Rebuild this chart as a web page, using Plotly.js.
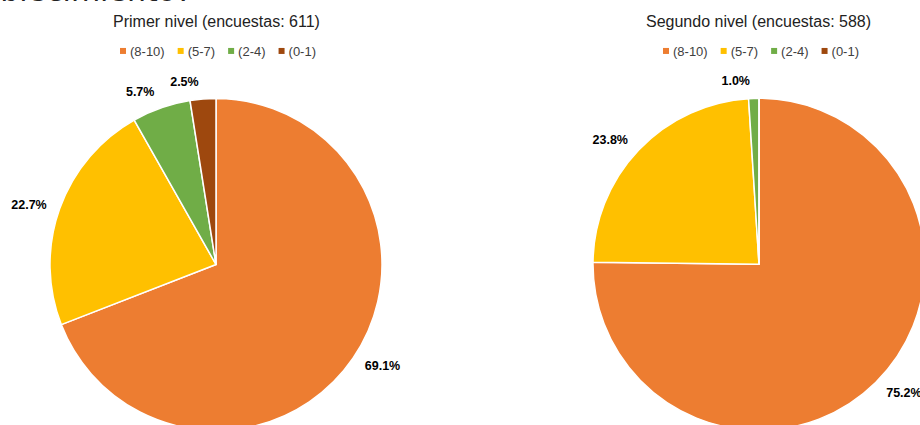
<!DOCTYPE html>
<html>
<head>
<meta charset="utf-8">
<script src="https://cdn.plot.ly/plotly-3.0.1.min.js"></script>
<style>
  html, body { margin: 0; padding: 0; background: #fff; overflow: hidden; }
  #wrap { width: 920px; height: 425px; overflow: hidden; position: relative; }
  #chart { width: 950px; height: 460px; }
</style>
</head>
<body>
<div id="wrap"><div id="chart"></div></div>
<script>
// ---- data ----
const categories = ['(8-10)', '(5-7)', '(2-4)', '(0-1)'];
const primerValues = [69.1, 22.7, 5.7, 2.5];
const segundoValues = [75.2, 23.8, 1.0, 0.0];
const primerTitle = 'Primer nivel (encuestas: 611)';
const segundoTitle = 'Segundo nivel (encuestas: 588)';
const headingText = 'establecimiento?';
const sliceColors = ['#ED7D31', '#FFC000', '#70AD47', '#9E480E'];

// ---- geometry (layout, not data) ----
const W = 950, H = 460;
const R = 166, RL = 176;
function dom(cx, cy, r) {
  return { x: [(cx - r) / W, (cx + r) / W], y: [(H - (cy + r)) / H, (H - (cy - r)) / H] };
}
// labels split over two label layers so neighbouring small slices are not pushed apart
const labelText = (vals, parity) => vals.map((v, i) => (v > 0 && i % 2 === parity) ? v.toFixed(1) + '%' : '');

function pie(vals, d) {
  return {
    type: 'pie', values: vals, labels: categories, sort: false, direction: 'clockwise', rotation: 0,
    marker: { colors: sliceColors, line: { color: '#ffffff', width: 1.5 } },
    textinfo: 'none', domain: d, showlegend: false, hoverinfo: 'label+percent'
  };
}
function labelLayer(vals, d, parity) {
  return {
    type: 'pie', values: vals, labels: categories, sort: false, direction: 'clockwise', rotation: 0,
    marker: { colors: categories.map(() => 'rgba(0,0,0,0)'), line: { width: 0 } },
    text: labelText(vals, parity), textinfo: 'text', textposition: 'outside',
    outsidetextfont: { family: 'Liberation Sans, Arial, sans-serif', size: 12.5, color: '#000', weight: 'bold' },
    domain: d, showlegend: false, hoverinfo: 'skip'
  };
}
// legend keys (one per category, per chart)
function legendKeys(legendId) {
  return categories.map((c, i) => ({
    type: 'scatter', mode: 'markers', x: [null], y: [null], name: c, legend: legendId,
    marker: { symbol: 'square', size: 6, color: sliceColors[i], line: { width: 0 } },
    hoverinfo: 'skip', showlegend: true
  }));
}

const leftC = [216, 264.5], rightC = [759, 264.3];
const data = [
  labelLayer(primerValues, dom(leftC[0], leftC[1], RL), 0),
  labelLayer(primerValues, dom(leftC[0], leftC[1], RL), 1),
  labelLayer(segundoValues, dom(rightC[0], rightC[1], RL), 0),
  labelLayer(segundoValues, dom(rightC[0], rightC[1], RL), 1),
  pie(primerValues, dom(leftC[0], leftC[1], R)),
  pie(segundoValues, dom(rightC[0], rightC[1], R))
].concat(legendKeys('legend'), legendKeys('legend2'));

const legendCenters = { legend: 218, legend2: 761 };
const legFont = { family: 'Liberation Sans, Arial, sans-serif', size: 13, color: '#404040' };
const legBase = { orientation: 'h', xanchor: 'center', y: (H - 51) / H, yanchor: 'middle', font: legFont,
  bgcolor: 'rgba(0,0,0,0)', traceorder: 'normal' };
const layout = {
  width: W, height: H, margin: { l: 0, r: 0, t: 0, b: 0 },
  paper_bgcolor: '#fff', plot_bgcolor: 'rgba(0,0,0,0)',
  font: { family: 'Liberation Sans, Arial, sans-serif' },
  xaxis: { visible: false, domain: [0, 0.01] },
  yaxis: { visible: false, domain: [0, 0.01] },
  legend: Object.assign({}, legBase, { x: legendCenters.legend / W }),
  legend2: Object.assign({}, legBase, { x: legendCenters.legend2 / W }),
  annotations: [
    { text: primerTitle, xref: 'paper', yref: 'paper', x: 216 / W, y: (H - 22) / H, xanchor: 'center', yanchor: 'middle', showarrow: false,
      font: { family: 'Liberation Sans, Arial, sans-serif', size: 16, color: '#222' } },
    { text: segundoTitle, xref: 'paper', yref: 'paper', x: 758.5 / W, y: (H - 22) / H, xanchor: 'center', yanchor: 'middle', showarrow: false,
      font: { family: 'Liberation Sans, Arial, sans-serif', size: 16, color: '#222' } },
    { text: headingText, xref: 'paper', yref: 'paper', x: 194 / W, y: (H - 10) / H, xanchor: 'right', yanchor: 'bottom', showarrow: false,
      font: { family: 'DejaVu Sans, sans-serif', size: 30, color: '#222' } }
  ]
};

function parseT(el) {
  const m = /translate\(\s*([-\d.e]+)[ ,]+([-\d.e]+)/.exec(el.getAttribute('transform') || '');
  return m ? [parseFloat(m[1]), parseFloat(m[2])] : [0, 0];
}
const measureCtx = document.createElement('canvas').getContext('2d');
function textWidth(str) {
  measureCtx.font = legFont.size + 'px "Liberation Sans", Arial, sans-serif';
  return measureCtx.measureText(str || '').width;
}
// compact legend: small square right next to its text
function compactLegend(group, centerX) {
  const items = Array.from(group.querySelectorAll('g.traces'));
  if (!items.length) return;
  items.forEach(it => it.querySelectorAll('.legendpoints path').forEach(p =>
    p.setAttribute('transform', 'translate(33,0)')));
  const tws = items.map((it, i) => {
    const t = it.querySelector('text');
    const s = (t && t.textContent) ? t.textContent : categories[i];
    return textWidth(s);
  });
  const scroll = items[0].parentNode;
  const sc = scroll.getScreenCTM() || group.getScreenCTM();
  const base = sc ? sc.e : 0;
  const rel = []; let x = 0;
  items.forEach((it, i) => { rel.push(x); x += tws[i] + 23; });
  const spanL = rel[0] + 30, spanR = rel[rel.length - 1] + 40 + tws[tws.length - 1];
  const x0 = centerX - base - (spanL + spanR) / 2;
  items.forEach((it, i) => { const p = parseT(it); it.setAttribute('transform', 'translate(' + (x0 + rel[i]) + ',' + p[1] + ')'); });
}

Plotly.newPlot('chart', data, layout, { displayModeBar: false, staticPlot: true }).then(gd => {
  const groups = Array.from(gd.querySelectorAll('.infolayer > g')).filter(g => g.querySelector('g.traces'));
  groups.forEach(g => {
    const cls = (g.getAttribute('class') || '').split(/\s+/).find(c => legendCenters[c] !== undefined);
    if (cls) compactLegend(g, legendCenters[cls]);
  });
});
</script>
</body>
</html>
